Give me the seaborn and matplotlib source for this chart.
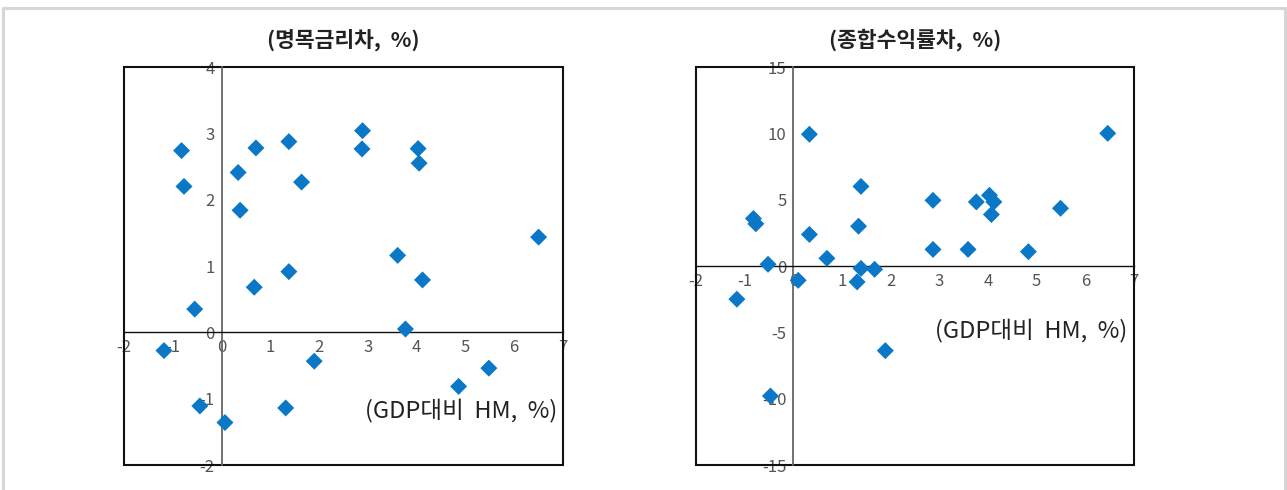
import matplotlib
matplotlib.use("Agg")
import matplotlib.pyplot as plt
from matplotlib.patches import Rectangle
from matplotlib.lines import Line2D
import seaborn as sns
import pandas as pd

# 데이터
hm_left = [-1.18, -0.82, -0.77, -0.55, -0.445, 0.07, 0.34, 0.38, 0.67, 0.705,
           1.315, 1.38, 1.38, 1.64, 1.90, 2.88, 2.89, 3.61, 3.77, 4.03,
           4.05, 4.12, 4.86, 5.48, 6.50]
명목금리차 = [-0.275, 2.74, 2.20, 0.35, -1.11, -1.36, 2.41, 1.84, 0.68, 2.78,
          -1.14, 2.875, 0.915, 2.265, -0.435, 2.765, 3.04, 1.16, 0.05, 2.77,
          2.55, 0.79, -0.815, -0.54, 1.435]

hm_right = [-1.16, -0.82, -0.77, -0.52, -0.47, 0.10, 0.33, 0.33, 0.69, 1.31,
            1.34, 1.39, 1.39, 1.67, 1.89, 2.87, 2.87, 3.59, 3.76, 4.03,
            4.07, 4.12, 4.83, 5.49, 6.46]
종합수익률차 = [-2.5, 3.58, 3.18, 0.13, -9.8, -1.08, 9.93, 2.38, 0.58, -1.2,
           3.0, 6.0, -0.18, -0.25, -6.38, 4.95, 1.25, 1.25, 4.83, 5.33,
           3.88, 4.83, 1.08, 4.35, 10.0]

df_left = pd.DataFrame({"hm": hm_left, "val": 명목금리차})
df_right = pd.DataFrame({"hm": hm_right, "val": 종합수익률차})

sns.set_style("white")
plt.rcParams['font.family'] = ['Noto Sans CJK KR', 'DejaVu Sans']
plt.rcParams['axes.unicode_minus'] = False

fig = plt.figure(figsize=(12.87, 4.90), dpi=100)

# 바깥 테두리 (회색)
for xs, ys in [([0.0023, 0.9988], [0.9827, 0.9827]),
               ([0.0023, 0.0023], [0.0, 0.9827]),
               ([0.9988, 0.9988], [0.0, 0.9827])]:
    fig.add_artist(Line2D(xs, ys, color='#d6d6d6', lw=2.2, transform=fig.transFigure))

paineis = [
    (df_left, [124 / 1287, 25 / 490, 439 / 1287, 398 / 490], (-2, 4), range(-2, 5),
     "(명목금리차,  %)", (0.986, 0.138)),
    (df_right, [696 / 1287, 25 / 490, 438 / 1287, 398 / 490], (-15, 15), range(-15, 16, 5),
     "(종합수익률차,  %)", (0.984, 0.339)),
]

for df, pos, ylim, yticks, titulo, lab_pos in paineis:
    ax = fig.add_axes(pos)
    sns.scatterplot(data=df, x="hm", y="val", marker="D", s=75, color="#0a78c6",
                    edgecolor="none", ax=ax, zorder=3, clip_on=False)
    ax.set_xlim(-2, 7)
    ax.set_ylim(*ylim)
    ax.set_xticks(range(-2, 8))
    ax.set_yticks(list(yticks))

    # 축을 0으로 이동
    ax.spines['left'].set_position(('data', 0))
    ax.spines['bottom'].set_position(('data', 0))
    ax.spines['left'].set_color('#666666')
    ax.spines['left'].set_linewidth(1.3)
    ax.spines['bottom'].set_color('#111111')
    ax.spines['bottom'].set_linewidth(1.0)
    ax.spines['top'].set_visible(False)
    ax.spines['right'].set_visible(False)
    ax.tick_params(axis='both', direction='inout', length=6, width=1,
                   colors='#333333', labelcolor='#555555', labelsize=12, pad=2)

    # 바깥 박스
    ax.add_patch(Rectangle((0, 0), 1, 1, transform=ax.transAxes, fill=False,
                           edgecolor='#111111', lw=1.5, clip_on=False, zorder=1))

    ax.set_xlabel("")
    ax.set_ylabel("")
    ax.text(0.5, 1 + 27 / 398, titulo, transform=ax.transAxes, ha='center', va='center',
            fontsize=15.5, fontweight='bold', color='#222222')
    ax.text(lab_pos[0], lab_pos[1], "(GDP대비  HM,  %)", transform=ax.transAxes,
            ha='right', va='center', fontsize=17, color='#222222')

fig.savefig("out.png", dpi=100, facecolor='white')
